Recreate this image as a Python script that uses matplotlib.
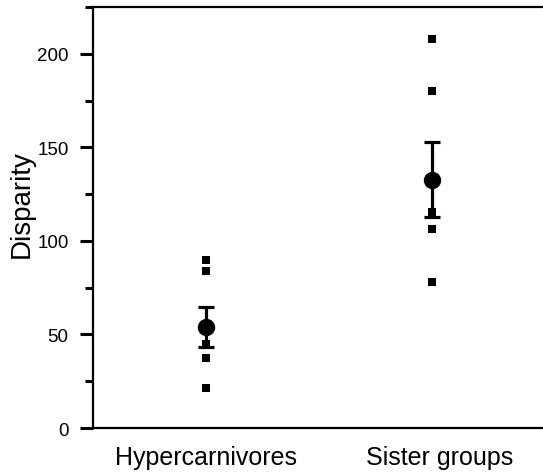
import matplotlib
matplotlib.use('Agg')
from matplotlib import pyplot as plt
from matplotlib.ticker import MultipleLocator

plt.rcParams['font.family'] = ['Liberation Sans', 'DejaVu Sans']

groups = ['Hypercarnivores', 'Sister groups']
hyper_points = [89.8, 84.0, 45.0, 37.4, 21.4]
sister_points = [208.0, 180.0, 115.5, 106.4, 78.0]
means = [54.0, 132.6]
err_low = [43.3, 112.8]
err_high = [64.7, 153.0]

fig = plt.figure(figsize=(5.43, 4.77), dpi=100)
ax = fig.add_axes([0.171, 0.1006, 0.829, 0.8826])

for i, pts in enumerate([hyper_points, sister_points]):
    ax.plot([i] * len(pts), pts, linestyle='none', marker='s', markersize=6,
            color='black', markeredgewidth=0)

yerr = [[m - lo for m, lo in zip(means, err_low)],
        [hi - m for m, hi in zip(means, err_high)]]
ax.errorbar(range(len(groups)), means, yerr=yerr, fmt='o', color='black',
            markersize=11.5, elinewidth=2.3, capsize=5.8, capthick=2.3)

ax.set_xlim(-0.5, 1.49)
ax.set_ylim(0, 225)
# second label sits a little right of its column in the original
ax.set_xticks([0, 1.035])
ax.set_xticklabels(groups, fontsize=18)

ax.yaxis.set_major_locator(MultipleLocator(50))
ax.yaxis.set_minor_locator(MultipleLocator(25))
ax.set_ylabel('Disparity', fontsize=20)
ax.yaxis.set_label_coords(-0.129, 0.534)

for lab in ax.get_yticklabels():
    lab.set_fontsize(13.5)

ax.tick_params(axis='x', length=0, pad=12)
ax.tick_params(axis='y', which='major', length=9.4, width=2.2, pad=8, direction='out')
ax.tick_params(axis='y', which='minor', length=5.8, width=2.2, direction='out')

ax.spines['right'].set_visible(False)
for s in ['left', 'top', 'bottom']:
    ax.spines[s].set_linewidth(1.6)

fig.savefig('out.png', dpi=100)
